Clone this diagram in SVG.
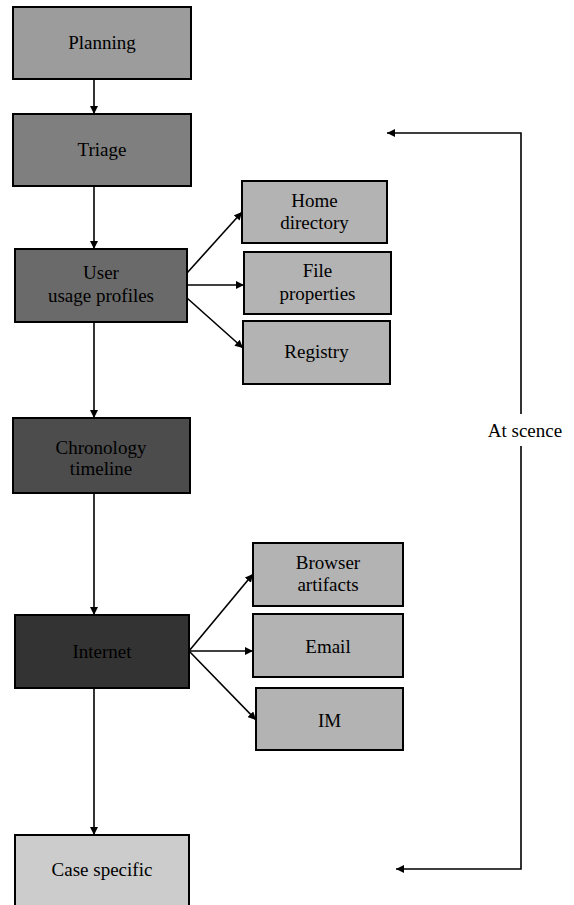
<svg xmlns="http://www.w3.org/2000/svg" width="574" height="905" viewBox="0 0 574 905">
<defs>
<marker id="ah" viewBox="0 0 10 10" refX="10" refY="5" markerWidth="8" markerHeight="8" markerUnits="userSpaceOnUse" orient="auto">
<path d="M0,0 L10,5 L0,10 z" fill="#000"/>
</marker>
</defs>
<style>
.box{stroke:#000;stroke-width:2}
.t{font-family:'Liberation Serif','DejaVu Serif',serif;font-size:19px;fill:#000;text-anchor:middle}
.c{fill:none;stroke:#000;stroke-width:1.6;marker-end:url(#ah)}
</style>
<rect width="574" height="905" fill="#fff"/>
<g id="planning"><rect class="box" x="13" y="7" width="178" height="72" fill="#9c9c9c"/><text class="t" font-family="Liberation Serif" x="102" y="49">Planning</text></g>
<g id="triage"><rect class="box" x="13" y="114" width="178" height="72" fill="#7f7f7f"/><text class="t" x="102" y="156">Triage</text></g>
<g id="user"><rect class="box" x="15" y="249" width="172" height="73" fill="#6a6a6a"/><text class="t" x="101" y="279">User</text><text class="t" x="101" y="302">usage profiles</text></g>
<g id="home"><rect class="box" x="242" y="181" width="145" height="62" fill="#b3b3b3"/><text class="t" x="314.5" y="207">Home</text><text class="t" x="314.5" y="229">directory</text></g>
<g id="fileprops"><rect class="box" x="244" y="252" width="147" height="62" fill="#b3b3b3"/><text class="t" x="317.5" y="277">File</text><text class="t" x="317.5" y="300">properties</text></g>
<g id="registry"><rect class="box" x="243" y="321" width="147" height="63" fill="#b3b3b3"/><text class="t" x="316.5" y="358">Registry</text></g>
<g id="chronology"><rect class="box" x="13" y="418" width="177" height="75" fill="#4c4c4c"/><text class="t" x="101" y="454">Chronology</text><text class="t" x="101" y="475">timeline</text></g>
<g id="internet"><rect class="box" x="15" y="615" width="174" height="73" fill="#333333"/><text class="t" x="102" y="658">Internet</text></g>
<g id="browser"><rect class="box" x="253" y="543" width="150" height="63" fill="#b3b3b3"/><text class="t" x="328" y="569">Browser</text><text class="t" x="328" y="591">artifacts</text></g>
<g id="email"><rect class="box" x="253" y="614" width="150" height="63" fill="#b3b3b3"/><text class="t" x="328" y="653">Email</text></g>
<g id="im"><rect class="box" x="256" y="688" width="147" height="62" fill="#b3b3b3"/><text class="t" x="329.5" y="727">IM</text></g>
<g id="casespecific"><rect class="box" x="15" y="835" width="174" height="75" fill="#cccccc"/><text class="t" x="102" y="876">Case specific</text></g>
<g id="atscene"><text class="t" x="525" y="437">At scence</text></g>
<g id="connectors">
<line class="c" x1="94" y1="79" x2="94" y2="114"/>
<line class="c" x1="94" y1="186" x2="94" y2="249"/>
<line class="c" x1="187" y1="273" x2="242" y2="212"/>
<line class="c" x1="187" y1="285" x2="244" y2="285"/>
<line class="c" x1="187" y1="298" x2="243" y2="348"/>
<line class="c" x1="94" y1="322" x2="94" y2="418"/>
<line class="c" x1="94" y1="493" x2="94" y2="615"/>
<line class="c" x1="189" y1="651" x2="253" y2="574"/>
<line class="c" x1="189" y1="651" x2="253" y2="651"/>
<line class="c" x1="189" y1="651" x2="256" y2="720"/>
<line class="c" x1="94" y1="688" x2="94" y2="835"/>
<polyline class="c" points="521,414 521,133 387,133"/>
<polyline class="c" points="521,446 521,869 396,869"/>
</g>
</svg>
